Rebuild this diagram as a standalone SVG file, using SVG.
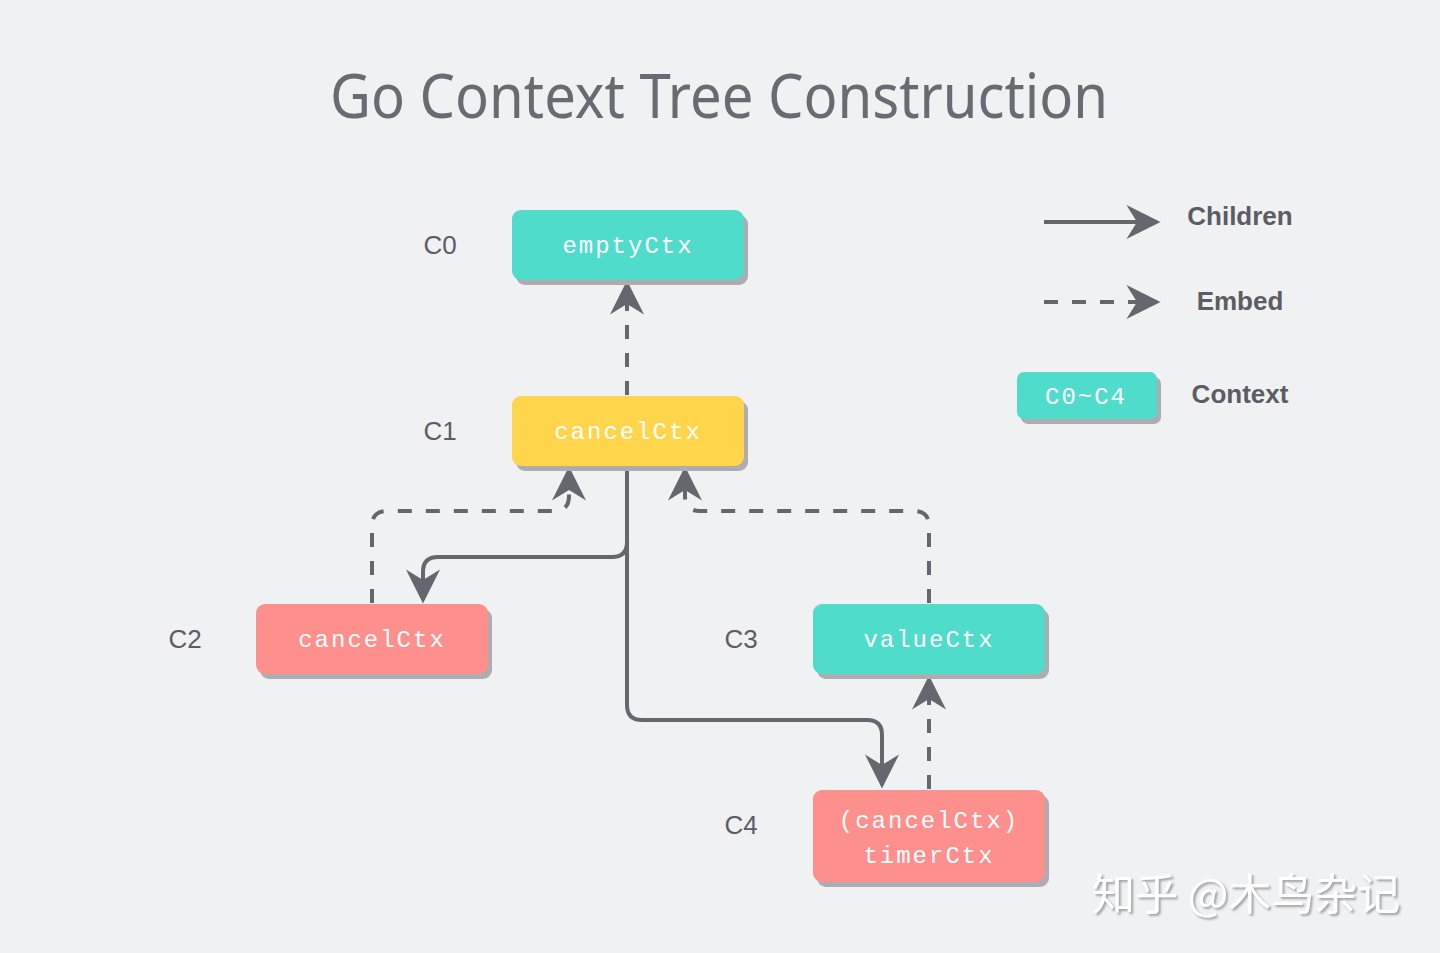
<svg xmlns="http://www.w3.org/2000/svg" width="1440" height="953" viewBox="0 0 1440 953">
<style>
.bg{fill:#f0f1f3}
.title{font-family:"Comic Sans MS","Noto Sans","DejaVu Sans",sans-serif;font-size:62px;fill:#6a6a72}
.lbl{font-family:"Liberation Sans",Arial,sans-serif;font-size:26px;fill:#5c5c64}
.leg{font-family:"Liberation Sans",Arial,sans-serif;font-size:26px;font-weight:bold;fill:#5c5c64}
.code{font-family:"Liberation Mono","Courier New",monospace;font-size:24px;letter-spacing:2px;fill:#ffffff}
.shadow{fill:#adadb1}
.teal{fill:#50dccb}
.yellow{fill:#fed54b}
.pink{fill:#fd8f8c}
.edge{fill:none;stroke:#66666e;stroke-width:4}
.dash{stroke-dasharray:14 14}
.wm{font-family:"Noto Sans CJK SC","Noto Sans",sans-serif;font-size:43px;fill:#ffffff}
</style>
<defs>
<marker id="arr" markerUnits="userSpaceOnUse" markerWidth="40" markerHeight="40" viewBox="-30 -16 34 32" refX="-3" refY="0" orient="auto">
<path d="M0,0 L-29,-14.5 L-20,0 L-29,14.5 Z" fill="#66666e"/>
</marker>
<filter id="wmsh" x="-10%" y="-20%" width="120%" height="140%">
<feDropShadow dx="2" dy="2" stdDeviation="1" flood-color="#9a9a9e" flood-opacity="0.9"/>
</filter>
</defs>
<rect class="bg" x="0" y="0" width="1440" height="953"/>
<text class="title" x="719" y="118" text-anchor="middle" textLength="778" lengthAdjust="spacingAndGlyphs">Go Context Tree Construction</text>

<g id="connectors">
<path class="edge dash" d="M627,395 V284" marker-end="url(#arr)"/>
<path class="edge" d="M627,465 V542 Q627,557 612,557 H438 Q423,557 423,572 V600" marker-end="url(#arr)"/>
<path class="edge dash" d="M372,603 V526 Q372,511 387,511 H554 Q569,511 569,496 V470" marker-end="url(#arr)"/>
<path class="edge dash" d="M929,603 V526 Q929,511 914,511 H700 Q685,511 685,496 V470" marker-end="url(#arr)"/>
<path class="edge" d="M627,465 V705 Q627,720 642,720 H867 Q882,720 882,735 V785" marker-end="url(#arr)"/>
<path class="edge dash" d="M929,789 V679" marker-end="url(#arr)"/>
</g>

<g id="C0">
<text class="lbl" x="440" y="254" text-anchor="middle">C0</text>
<rect class="shadow" x="516" y="215" width="232" height="70" rx="9"/>
<rect class="teal" x="512" y="210" width="232" height="70" rx="9"/>
<text class="code" x="628" y="253" text-anchor="middle">emptyCtx</text>
</g>

<g id="C1">
<text class="lbl" x="440" y="440" text-anchor="middle">C1</text>
<rect class="shadow" x="516" y="401" width="232" height="70" rx="9"/>
<rect class="yellow" x="512" y="396" width="232" height="70" rx="9"/>
<text class="code" x="628" y="439" text-anchor="middle">cancelCtx</text>
</g>

<g id="C2">
<text class="lbl" x="185" y="648" text-anchor="middle">C2</text>
<rect class="shadow" x="260" y="609" width="232" height="70" rx="9"/>
<rect class="pink" x="256" y="604" width="232" height="70" rx="9"/>
<text class="code" x="372" y="647" text-anchor="middle">cancelCtx</text>
</g>

<g id="C3">
<text class="lbl" x="741" y="648" text-anchor="middle">C3</text>
<rect class="shadow" x="817" y="609" width="232" height="70" rx="9"/>
<rect class="teal" x="813" y="604" width="232" height="70" rx="9"/>
<text class="code" x="929" y="647" text-anchor="middle">valueCtx</text>
</g>

<g id="C4">
<text class="lbl" x="741" y="834" text-anchor="middle">C4</text>
<rect class="shadow" x="817" y="795" width="232" height="92" rx="9"/>
<rect class="pink" x="813" y="790" width="232" height="92" rx="9"/>
<text class="code" x="929" y="828" text-anchor="middle">(cancelCtx)</text>
<text class="code" x="929" y="863" text-anchor="middle">timerCtx</text>
</g>

<g id="legend">
<path class="edge" d="M1044,222 H1157" marker-end="url(#arr)"/>
<text class="leg" x="1240" y="225" text-anchor="middle">Children</text>
<path class="edge dash" d="M1044,302 H1157" marker-end="url(#arr)"/>
<text class="leg" x="1240" y="310" text-anchor="middle">Embed</text>
<rect class="shadow" x="1021" y="377" width="140" height="47" rx="7"/>
<rect class="teal" x="1017" y="372" width="140" height="47" rx="7"/>
<text class="code" x="1086" y="404" text-anchor="middle">C0~C4</text>
<text class="leg" x="1240" y="403" text-anchor="middle">Context</text>
</g>

<text class="wm" x="1092" y="910" filter="url(#wmsh)">知乎 @木鸟杂记</text>
</svg>
